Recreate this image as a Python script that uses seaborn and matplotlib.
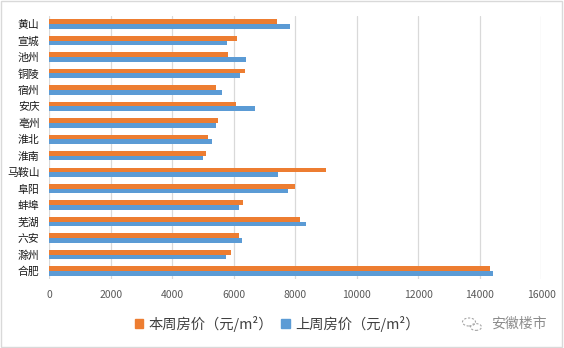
import matplotlib
matplotlib.use("Agg")
import matplotlib.pyplot as plt
import seaborn as sns
import pandas as pd
from matplotlib.patches import Rectangle, Circle

cities = ["黄山", "宣城", "池州", "铜陵", "宿州", "安庆", "亳州", "淮北", "淮南",
          "马鞍山", "阜阳", "蚌埠", "芜湖", "六安", "滁州", "合肥"]
this_week = [7400, 6100, 5810, 6360, 5420, 6070, 5490, 5160, 5100,
             9000, 7990, 6300, 8150, 6170, 5910, 14330]
last_week = [7830, 5780, 6400, 6200, 5620, 6690, 5420, 5290, 5000,
             7440, 7760, 6170, 8350, 6270, 5750, 14430]
series_names = ["本周房价（元/m²）", "上周房价（元/m²）"]
x_ticks = [0, 2000, 4000, 6000, 8000, 10000, 12000, 14000, 16000]

df = pd.concat([
    pd.DataFrame({"city": cities, "price": this_week, "series": series_names[0]}),
    pd.DataFrame({"city": cities, "price": last_week, "series": series_names[1]}),
])

sns.set_theme(style="white")
plt.rcParams["font.family"] = ["Noto Sans CJK SC", "DejaVu Sans"]

fig = plt.figure(figsize=(5.64, 3.48), dpi=100)
ax = fig.add_axes([49.3 / 564, 1 - 279.3 / 348, (541.3 - 49.3) / 564, (279.3 - 15.8) / 348])

sns.barplot(data=df, y="city", x="price", hue="series", order=cities,
            hue_order=series_names, palette=["#ED7D31", "#5B9BD5"],
            width=0.57, gap=0, saturation=1, ax=ax, legend=False, orient="h")
for p in ax.patches:
    p.set_edgecolor("none")

ax.set_xlim(0, 16000)
ax.set_xticks(x_ticks)
ax.set_xticklabels([str(t) for t in x_ticks])
ax.set_xlabel("")
ax.set_ylabel("")
ax.grid(axis="x", color="#D9D9D9", linewidth=0.9)
ax.grid(axis="y", visible=False)
ax.set_axisbelow(True)
for s in ax.spines.values():
    s.set_visible(False)
ax.tick_params(axis="x", length=0, pad=8, labelsize=7.5, labelcolor="#595959")
ax.tick_params(axis="y", length=0, pad=7, labelsize=7.8, labelcolor="#1A1A1A")

handles = [Rectangle((0, 0), 1, 1, color="#ED7D31"), Rectangle((0, 0), 1, 1, color="#5B9BD5")]
fig.legend(handles, series_names, loc="center", bbox_to_anchor=(277 / 564, 1 - 324 / 348),
           ncol=2, frameon=False, fontsize=10.3, handlelength=0.6, handleheight=0.6,
           handletextpad=0.35, columnspacing=0.6, labelcolor="#404040")

# watermark icon (two outlined bubbles) and text
for cx, cy, r in [(469, 322, 6.5), (476, 327, 5.5)]:
    fig.patches.append(Circle((cx / 564, 1 - cy / 348), r / 564, transform=fig.transFigure,
                              fill=False, edgecolor="#A6A6A6", linewidth=0.8, linestyle=(0, (2, 1.5))))
fig.text(547 / 564, 1 - 324 / 348, "安徽楼市", ha="right", va="center", fontsize=10, color="#8C8C8C")

fig.patches.append(Rectangle((0.002, 0.003), 0.995, 0.994, transform=fig.transFigure,
                             fill=False, edgecolor="#D9D9D9", linewidth=1))

fig.savefig("out.png", dpi=100)
